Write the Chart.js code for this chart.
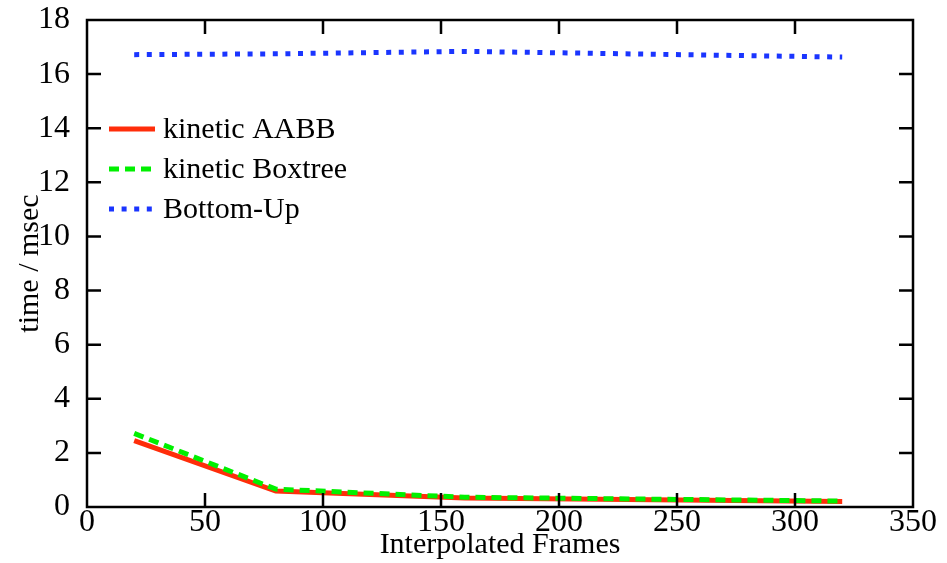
<!DOCTYPE html>
<html>
<head>
<meta charset="utf-8">
<script src="https://cdn.jsdelivr.net/npm/chart.js@4"></script>
<style>
  html, body { margin: 0; padding: 0; background: #fff; }
  #wrap { width: 947px; height: 563px; }
</style>
</head>
<body>
<div id="wrap"><canvas id="myChart"></canvas></div>
<script>
const frames = [20, 80, 160, 320];
const kineticAABB = [2.45, 0.59, 0.33, 0.2];
const kineticBoxtree = [2.72, 0.66, 0.36, 0.22];
const bottomUp = [16.72, 16.75, 16.84, 16.63];

const xTicks = [0, 50, 100, 150, 200, 250, 300, 350];
const yTicks = [0, 2, 4, 6, 8, 10, 12, 14, 16, 18];

const serif = 'Liberation Serif';

function pts(ys) {
    return frames.map((x, i) => ({ x: x, y: ys[i] }));
}

// frame box with ticks pointing inwards on all four sides
const frameBox = {
    id: 'frameBox',
    afterDraw(chart) {
        const c = chart.ctx;
        const a = chart.chartArea;
        const sx = chart.scales.x, sy = chart.scales.y;
        const len = 14;
        c.save();
        c.strokeStyle = '#000';
        c.lineWidth = 2.5;
        c.strokeRect(a.left, a.top, a.right - a.left, a.bottom - a.top);
        c.beginPath();
        xTicks.forEach(v => {
            const px = sx.getPixelForValue(v);
            if (v === 0 || v === 350) return;
            c.moveTo(px, a.bottom); c.lineTo(px, a.bottom - len);
            c.moveTo(px, a.top); c.lineTo(px, a.top + len);
        });
        yTicks.forEach(v => {
            const py = sy.getPixelForValue(v);
            if (v === 0 || v === 18) return;
            c.moveTo(a.left, py); c.lineTo(a.left + len, py);
            c.moveTo(a.right, py); c.lineTo(a.right - len, py);
        });
        c.stroke();
        c.restore();
    }
};

// legend drawn inside the plot, upper left
const innerLegend = {
    id: 'innerLegend',
    afterDraw(chart) {
        const c = chart.ctx;
        const a = chart.chartArea;
        const rows = [0, 1, 2];
        c.save();
        c.font = '30px "' + serif + '"';
        c.textBaseline = 'middle';
        c.fillStyle = '#000';
        rows.forEach(i => {
            const ds = chart.data.datasets[i];
            const y = a.top + 109 + i * 40;
            c.beginPath();
            c.strokeStyle = ds.borderColor;
            c.lineWidth = ds.borderWidth;
            c.setLineDash(ds.borderDash || []);
            c.moveTo(a.left + 22, y);
            c.lineTo(a.left + 68, y);
            c.stroke();
            c.setLineDash([]);
            c.fillText(ds.label, a.left + 76, y + 1);
        });
        c.restore();
    }
};

function noPad(s) {
    s.paddingTop = 0;
    s.paddingBottom = 0;
    s.paddingLeft = 0;
    s.paddingRight = 0;
}

new Chart(document.getElementById('myChart'), {
    type: 'line',
    data: {
        datasets: [{
            label: 'kinetic AABB',
            data: pts(kineticAABB),
            borderColor: '#ff2d0a',
            borderWidth: 5,
            order: 2,
        }, {
            label: 'kinetic Boxtree',
            data: pts(kineticBoxtree),
            borderColor: '#00f000',
            borderWidth: 5,
            borderDash: [10, 6],
            order: 1,
        }, {
            label: 'Bottom-Up',
            data: pts(bottomUp),
            borderColor: '#1a35ff',
            borderWidth: 5,
            borderDash: [5, 7.6],
            order: 0,
        }]
    },
    options: {
        responsive: true,
        maintainAspectRatio: false,
        animation: false,
        elements: {
            point: { radius: 0 },
            line: { tension: 0, borderCapStyle: 'butt' }
        },
        layout: { padding: { top: 20, right: 34, left: 0, bottom: 0 } },
        plugins: {
            legend: { display: false },
            tooltip: { enabled: false }
        },
        scales: {
            x: {
                type: 'linear',
                min: 0,
                max: 350,
                afterFit: s => { s.height = 56; noPad(s); },
                afterBuildTicks: s => { s.ticks = xTicks.map(v => ({ value: v })); },
                grid: { display: false },
                border: { display: false },
                ticks: {
                    color: '#000',
                    padding: -12,
                    maxRotation: 0,
                    font: { family: serif, size: 32 }
                },
                title: {
                    display: true,
                    text: 'Interpolated Frames',
                    color: '#000',
                    font: { family: serif, size: 30 },
                    padding: { top: 0, bottom: 0 }
                }
            },
            y: {
                min: 0,
                max: 18,
                afterFit: s => { s.width = 87; noPad(s); },
                afterBuildTicks: s => { s.ticks = yTicks.map(v => ({ value: v })); },
                grid: { display: false },
                border: { display: false },
                ticks: {
                    color: '#000',
                    padding: 9,
                    font: { family: serif, size: 32 }
                },
                title: {
                    display: true,
                    text: 'time / msec',
                    color: '#000',
                    font: { family: serif, size: 30 },
                    padding: { top: 12, bottom: 0 }
                }
            }
        }
    },
    plugins: [frameBox, innerLegend]
});
</script>
</body>
</html>
